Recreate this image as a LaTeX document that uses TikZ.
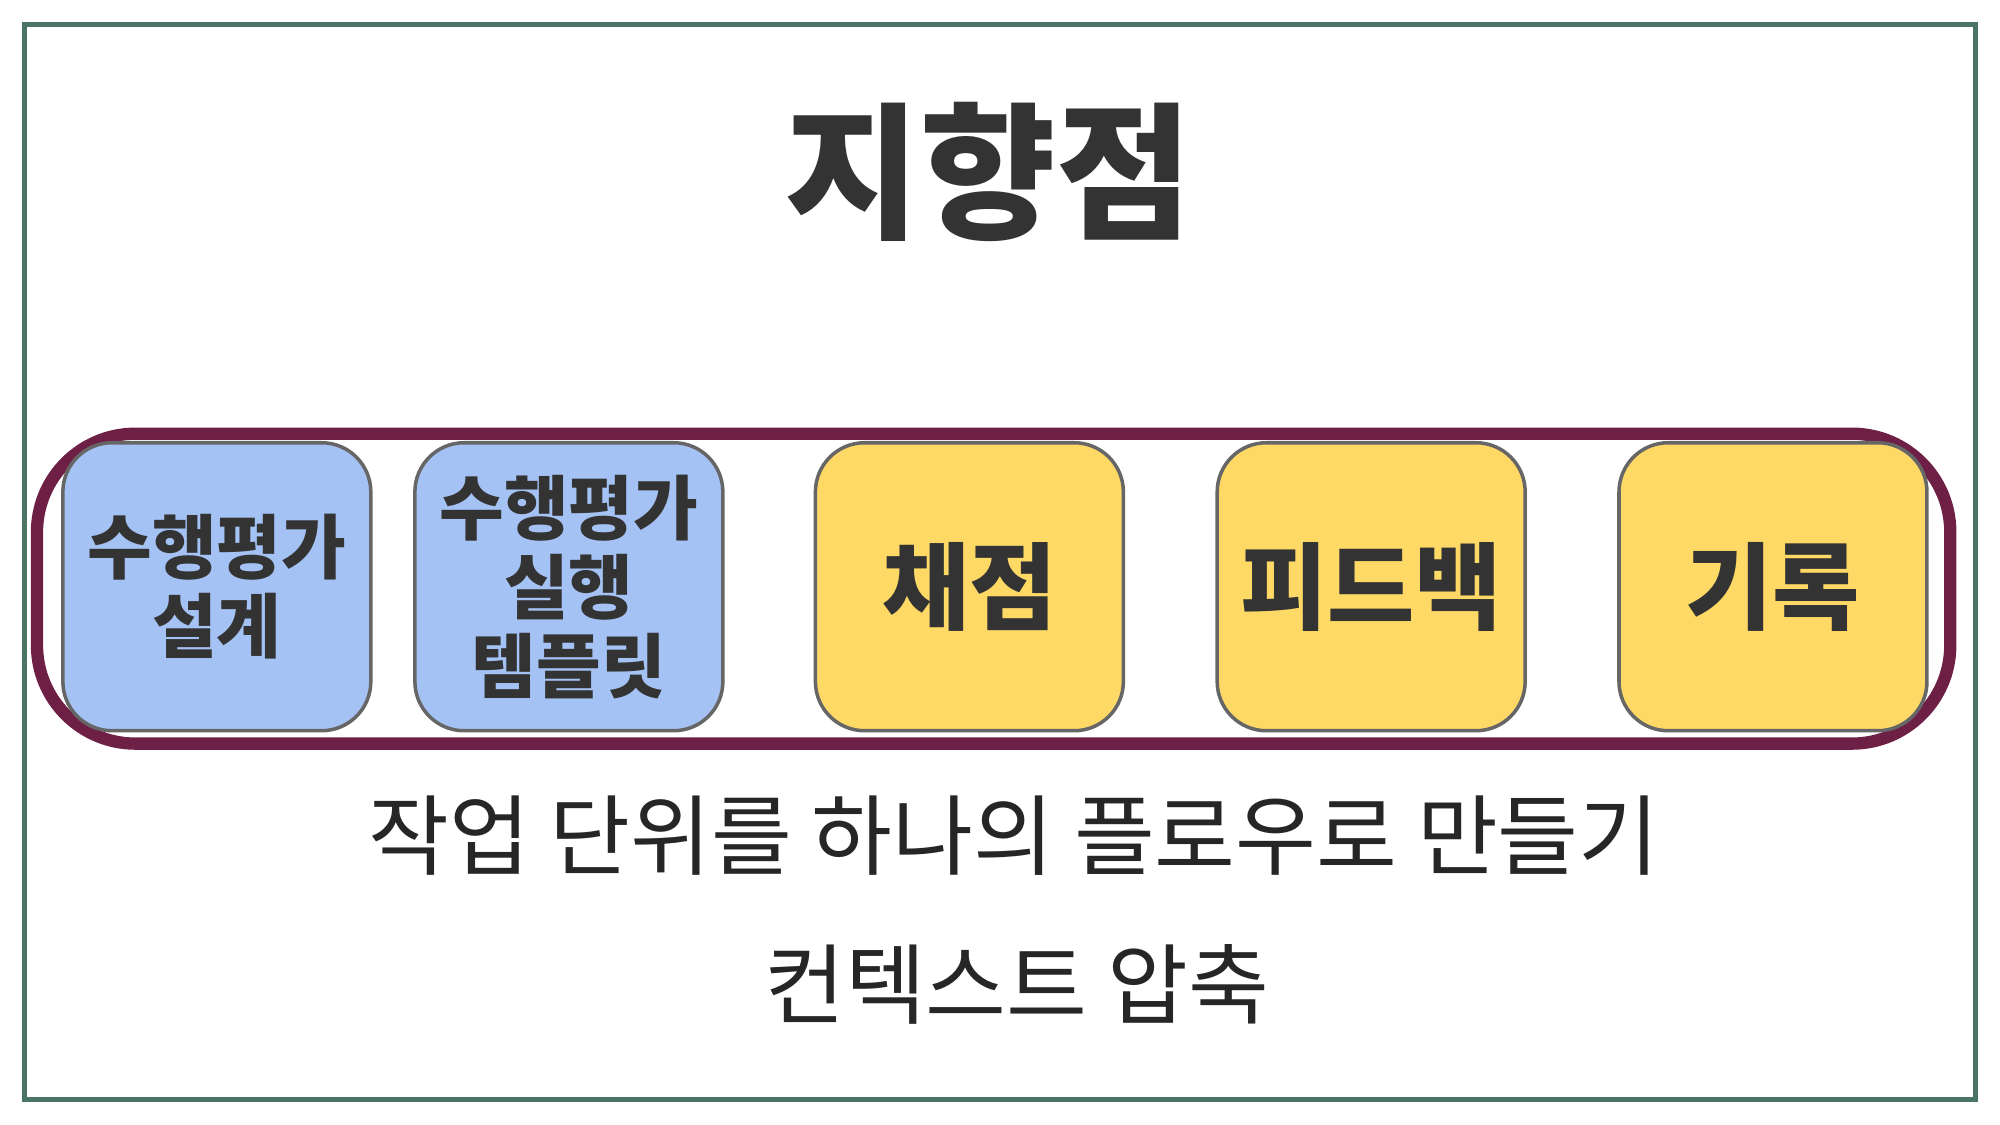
\documentclass[tikz,border=0pt]{standalone}
\usepackage{fontspec}
\setmainfont{Noto Sans CJK KR}
\usetikzlibrary{positioning}
\definecolor{framegreen}{HTML}{4A7565}
\definecolor{flowpurple}{HTML}{6E1F45}
\definecolor{stepblue}{HTML}{A4C2F4}
\definecolor{stepyellow}{HTML}{FFD966}
\definecolor{inkgray}{HTML}{333333}
\tikzset{stepbox/.style={draw=gray!80!black, line width=1pt, rounded corners=14pt, minimum width=3.08cm, minimum height=2.88cm, align=center, text=inkgray, font=\fontsize{20}{22.5}\selectfont\bfseries, inner sep=0pt}}
\tikzset{caption/.style={text=black!85, font=\fontsize{25}{30}\selectfont}}
\begin{document}
\begin{tikzpicture}[x=0.012755cm, y=-0.012755cm]
	\useasboundingbox (0,0) rectangle (1568,882);
	\draw[framegreen, line width=1.5pt] (19,19) rectangle (1549,862);
	\node[text=inkgray, font=\fontsize{42}{46}\selectfont\bfseries] (title) at (775,135) {지향점};
	% flow frame
	\draw[flowpurple, line width=3.5pt, rounded corners=28pt] (29,340) rectangle (1529,583);
	\node[stepbox, fill=stepblue] (design) at (170,460) {수행평가\\설계};
	\node[stepbox, fill=stepblue] (run) at (446,460) {수행평가\\실행\\템플릿};
	\node[stepbox, fill=stepyellow] (grade) at (760,460) {\fontsize{27}{30}\selectfont 채점};
	\node[stepbox, fill=stepyellow] (feedback) at (1075,460) {\fontsize{27}{30}\selectfont 피드백};
	\node[stepbox, fill=stepyellow] (record) at (1390,460) {\fontsize{27}{30}\selectfont 기록};
	\node[caption] (flow) at (795,655) {작업 단위를 하나의 플로우로 만들기};
	\node[caption] (ctx) at (797,772) {컨텍스트 압축};
\end{tikzpicture}
\end{document}
